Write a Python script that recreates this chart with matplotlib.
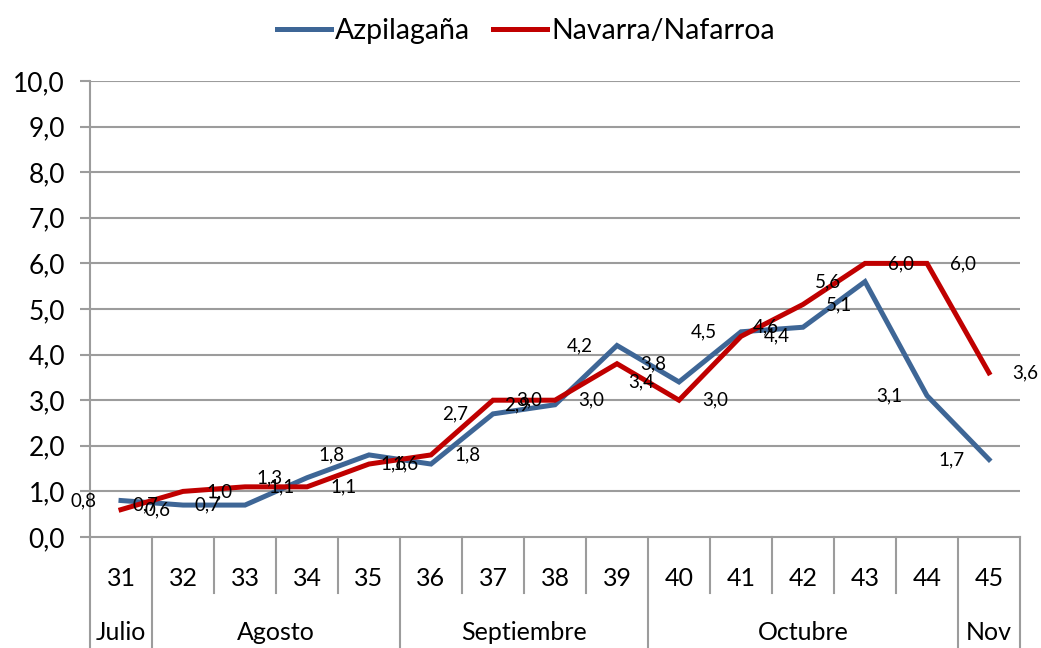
import matplotlib
matplotlib.use("Agg")
import matplotlib.pyplot as plt

plt.rcParams['font.family'] = ['Lato', 'DejaVu Sans']

weeks = ["31", "32", "33", "34", "35", "36", "37", "38", "39", "40", "41", "42", "43", "44", "45"]
months = ["Julio", "Agosto", "Septiembre", "Octubre", "Nov"]
month_spans = [1, 4, 4, 5, 1]
azpilagana = [0.8, 0.7, 0.7, 1.3, 1.8, 1.6, 2.7, 2.9, 4.2, 3.4, 4.5, 4.6, 5.6, 3.1, 1.7]
navarra = [0.6, 1.0, 1.1, 1.1, 1.6, 1.8, 3.0, 3.0, 3.8, 3.0, 4.4, 5.1, 6.0, 6.0, 3.6]
yticks = [0, 1, 2, 3, 4, 5, 6, 7, 8, 9, 10]

W, H = 1041, 648
fig = plt.figure(figsize=(W / 100, H / 100), dpi=100)
L, R, T, B = 90, 1020, 81, 537
ax = fig.add_axes([L / W, (H - B) / H, (R - L) / W, (B - T) / H])

blue = "#3E6696"
red = "#C00000"
grid = "#9C9C9C"

x = list(range(len(weeks)))
ax.plot(x, azpilagana, color=blue, lw=3.6, solid_joinstyle="miter", label="Azpilagaña", zorder=3)
ax.plot(x, navarra, color=red, lw=3.6, solid_joinstyle="miter", label="Navarra/Nafarroa", zorder=4)

for xi, v in zip(x, azpilagana):
    ax.annotate(f"{v:.1f}".replace(".", ","), (xi, v), xytext=(-27, 0), textcoords="offset points",
                ha="center", va="center", fontsize=13.5, color="black", zorder=5)
for xi, v in zip(x, navarra):
    ax.annotate(f"{v:.1f}".replace(".", ","), (xi, v), xytext=(26, 0), textcoords="offset points",
                ha="center", va="center", fontsize=13.5, color="black", zorder=5)

ax.set_xlim(-0.5, len(weeks) - 0.5)
ax.set_ylim(0, 10)
ax.set_yticks(yticks)
ax.set_yticklabels([f"{v:.1f}".replace(".", ",") for v in yticks], fontsize=19)
ax.tick_params(axis="y", length=7, width=1.5, color=grid, pad=11)
for yv in yticks[1:]:
    ax.axhline(yv, color=grid, lw=1.5, zorder=1)
ax.set_xticks([])
for s in ["top", "right"]:
    ax.spines[s].set_visible(False)
ax.spines["left"].set_color(grid)
ax.spines["left"].set_linewidth(1.5)
ax.spines["bottom"].set_color(grid)
ax.spines["bottom"].set_linewidth(1.5)

trans = ax.get_xaxis_transform()
ph = B - T
week_bottom = -(593 - B) / ph
month_bottom = -(H - B) / ph
week_y = -(578 - B) / ph
month_y = -(632 - B) / ph

boundaries = [-0.5]
for s in month_spans:
    boundaries.append(boundaries[-1] + s)

for i in range(len(weeks) + 1):
    xb = i - 0.5
    bottom = month_bottom if xb in boundaries else week_bottom
    ax.plot([xb, xb], [0, bottom], transform=trans, color=grid, lw=1.5, clip_on=False)

for xi, w in zip(x, weeks):
    ax.text(xi, week_y, w, transform=trans, ha="center", va="center", fontsize=18)

for i, m in enumerate(months):
    c = (boundaries[i] + boundaries[i + 1]) / 2
    ax.text(c, month_y, m, transform=trans, ha="center", va="center", fontsize=18)

fig.legend(loc="upper center", bbox_to_anchor=(0.505, 1.012), ncol=2, frameon=False,
           fontsize=20.5, handlelength=1.9, handletextpad=0.15, columnspacing=0.8)

fig.savefig("out.png", dpi=100)
